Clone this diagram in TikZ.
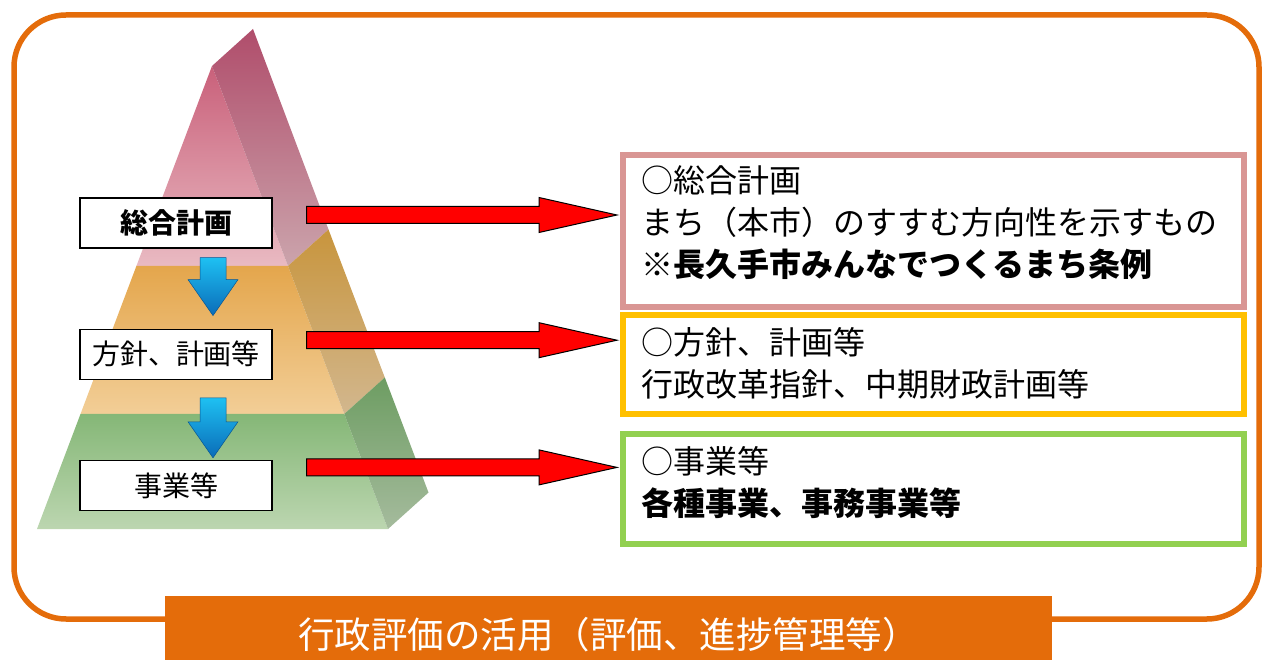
\documentclass[tikz,border=0pt]{standalone}
\usepackage{fontspec}
\newfontfamily\jp{Noto Sans CJK JP}
\usepackage{tikz}
\usetikzlibrary{calc,positioning}

\definecolor{frameorange}{HTML}{E46C0A}
\definecolor{genline}{HTML}{D99694}
\definecolor{polline}{HTML}{FFC000}
\definecolor{prjline}{HTML}{92D050}
\definecolor{arrtop}{HTML}{1EC0F2}
\definecolor{arrbot}{HTML}{0A6CB8}
% pyramid faces
\definecolor{pinkA}{HTML}{C9607A}
\definecolor{pinkB}{HTML}{E9BAC2}
\definecolor{pinkC}{HTML}{B04D6B}
\definecolor{pinkD}{HTML}{CBA4AC}
\definecolor{orangeA}{HTML}{E4A64C}
\definecolor{orangeB}{HTML}{F2CE97}
\definecolor{orangeC}{HTML}{C8953D}
\definecolor{orangeD}{HTML}{D2B78E}
\definecolor{greenA}{HTML}{85B777}
\definecolor{greenB}{HTML}{BCD6B0}
\definecolor{greenC}{HTML}{6D9D62}
\definecolor{greenD}{HTML}{A5BB9D}

% down arrow between two levels: #1 start, #2 tip
\newcommand\levelarrow[2]{%
  \shade [top color=arrtop, bottom color=arrbot, draw=arrbot!80!black, line width=0.5pt]
    let \p1=(#1), \p2=(#2) in
    (\x1-13pt,\y1) -- (\x1+13pt,\y1) -- (\x1+13pt,\y2+36pt) -- (\x1+25pt,\y2+36pt)
    -- (\x2,\y2) -- (\x1-25pt,\y2+36pt) -- (\x1-13pt,\y2+36pt) -- cycle;}

% fat red arrow to the description box: #1 start, #2 tip
\newcommand\linkarrow[2]{%
  \filldraw [fill=red, draw=black, line width=1pt]
    let \p1=(#1), \p2=(#2) in
    (\x1,\y1+8.5pt) -- (\x2-78pt,\y1+8.5pt) -- (\x2-78pt,\y1+17.5pt) -- (\x2,\y1)
    -- (\x2-78pt,\y1-17.5pt) -- (\x2-78pt,\y1-8.5pt) -- (\x1,\y1-8.5pt) -- cycle;}

\begin{document}
\begin{tikzpicture}[x=1pt, y=-1pt, node distance=80pt,
    lvlbox/.style={draw, line width=1.2pt, fill=white, minimum width=192pt,
      minimum height=50pt, inner sep=0pt, font=\jp\fontsize{28}{30}\selectfont},
    infobox/.style={draw=#1, line width=6pt, minimum width=621pt, inner sep=0pt, outer sep=0pt},
    infotext/.style={anchor=north west, align=left, inner sep=0pt,
      font=\jp\fontsize{32}{42}\selectfont}]
    \useasboundingbox (0,0) rectangle (1270,660);

    % outer frame
    \draw [frameorange, line width=5.5pt, rounded corners=52pt] (14,15) rectangle (1259,619);

    % Pyramid {top, middle, base}, front faces then side faces
    \shade [top color=pinkA, bottom color=pinkB]
      (212,66) -- (288,266) -- (136.4,266) -- cycle;
    \shade [top color=pinkC, bottom color=pinkD]
      (212,66) -- (253,29) -- (328.5,229.5) -- (288,266) -- cycle;
    \shade [top color=orangeA, bottom color=orangeB]
      (136.4,266) -- (288,266) -- (344.3,414) -- (80.5,414) -- cycle;
    \shade [top color=orangeC, bottom color=orangeD]
      (288,266) -- (328.5,229.5) -- (384.8,377.5) -- (344.3,414) -- cycle;
    \shade [top color=greenA, bottom color=greenB]
      (80.5,414) -- (344.3,414) -- (388,529) -- (37,529) -- cycle;
    \shade [top color=greenC, bottom color=greenD]
      (344.3,414) -- (384.8,377.5) -- (428.5,492.5) -- (388,529) -- cycle;

    % Nodes {plan, pol, prj}
    \node [lvlbox] (plan) at (176,223) {\bfseries 総合計画};
    \node [lvlbox] (pol)  [below=of plan] {方針、計画等};
    \node [lvlbox] (prj)  [below=of pol]  {事業等};

    % description boxes
    \node [infobox=genline, minimum height=152pt] (genr) at (933.5,231) {};
    \node [infobox=polline, minimum height=99pt]  (polr) at (933.5,364.5) {};
    \node [infobox=prjline, minimum height=110pt] (prjr) at (933.5,489) {};

    \node [infotext] (gentxt) at ($(genr.north west)+(18,10)$)
      {○総合計画\\まち（本市）のすすむ方向性を示すもの\\\textbf{※長久手市みんなでつくるまち条例}};
    \node [infotext] (poltxt) at ($(polr.north west)+(18,12)$)
      {○方針、計画等\\行政改革指針、中期財政計画等};
    \node [infotext] (prjtxt) at ($(prjr.north west)+(18,12)$)
      {○事業等\\\textbf{各種事業、事務事業等}};

    % Paths
    \coordinate (b1) at ($(plan.south)+(37,9)$);
    \coordinate (c1) at ($(pol.north)+(37,-13)$);
    \coordinate (b2) at ($(pol.south)+(37,18)$);
    \coordinate (c2) at ($(prj.north)+(37,-2)$);
    \levelarrow{b1}{c1}
    \levelarrow{b2}{c2}

    \coordinate (a1) at ($(plan.east)+(34,-8)$);
    \coordinate (a2) at ($(pol.east)+(34,-14)$);
    \coordinate (a3) at ($(prj.east)+(34,-18)$);
    \coordinate (t1) at ($(a1 -| genr.west)+(-6,0)$);
    \coordinate (t2) at ($(a2 -| polr.west)+(-6,0)$);
    \coordinate (t3) at ($(a3 -| prjr.west)+(-6,0)$);
    \linkarrow{a1}{t1}
    \linkarrow{a2}{t2}
    \linkarrow{a3}{t3}

    % title bar over the frame
    \node [fill=frameorange, minimum width=887pt, minimum height=78pt, inner sep=0pt,
      text=white, font=\jp\fontsize{36.5}{40}\selectfont] (title) at (608.5,635)
      {行政評価の活用（評価、進捗管理等）};
\end{tikzpicture}
\end{document}
